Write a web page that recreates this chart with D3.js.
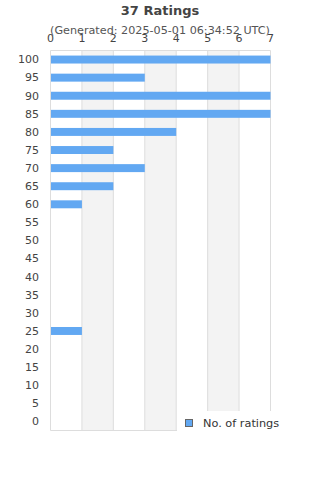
<!DOCTYPE html>
<html>
<head>
<meta charset="utf-8">
<script src="https://d3js.org/d3.v7.min.js"></script>
<style>
  body { margin: 0; background: #fff; }
  svg { font-family: "DejaVu Sans", sans-serif; }
</style>
</head>
<body>
<svg width="320" height="480"></svg>
<script>
// ratings (categories) from top to bottom and counts
var categories = ["100","95","90","85","80","75","70","65","60","55","50","45","40","35","30","25","20","15","10","5","0"];
var counts =     [7, 3, 7, 7, 4, 2, 3, 2, 1, 0, 0, 0, 0, 0, 0, 1, 0, 0, 0, 0, 0];
var xTicks = [0, 1, 2, 3, 4, 5, 6, 7];
var title = "37 Ratings";
var subtitle = "(Generated: 2025-05-01 06:34:52 UTC)";
var seriesName = "No. of ratings";

var svg = d3.select("svg");
var plotLeft = 50.5, plotRight = 270.5, plotTop = 50.5, plotBottom = 430.5;
var barColor = "#62a8f2";

var x = d3.scaleLinear().domain([0, 7]).range([plotLeft, plotRight]);
var y = d3.scaleBand().domain(categories).range([plotTop, plotBottom]).paddingInner(0.56).paddingOuter(0.28);

// alternate bands
svg.append("g").selectAll("rect")
  .data([1, 3, 5])
  .enter().append("rect")
  .attr("x", function(d) { return x(d); })
  .attr("y", plotTop)
  .attr("width", function(d) { return x(d + 1) - x(d); })
  .attr("height", plotBottom - plotTop)
  .attr("fill", "#f3f3f3");

// grid lines
svg.append("g").selectAll("line")
  .data(xTicks)
  .enter().append("line")
  .attr("x1", function(d) { return x(d); })
  .attr("x2", function(d) { return x(d); })
  .attr("y1", plotTop)
  .attr("y2", plotBottom)
  .attr("stroke", "#dddddd");

svg.append("line")
  .attr("x1", plotLeft).attr("x2", plotRight)
  .attr("y1", plotTop).attr("y2", plotTop)
  .attr("stroke", "#dddddd");
svg.append("line")
  .attr("x1", plotLeft).attr("x2", plotRight)
  .attr("y1", plotBottom).attr("y2", plotBottom)
  .attr("stroke", "#dddddd");

// bars
svg.append("g").selectAll("rect")
  .data(counts)
  .enter().append("rect")
  .attr("x", plotLeft + 0.5)
  .attr("y", function(d, i) { return y(categories[i]); })
  .attr("width", function(d) { return Math.max(0, x(d) - plotLeft - 0.5); })
  .attr("height", y.bandwidth())
  .attr("fill", barColor);

// x axis labels (top)
svg.append("g").selectAll("text")
  .data(xTicks)
  .enter().append("text")
  .attr("x", function(d) { return x(d); })
  .attr("y", 42)
  .attr("text-anchor", "middle")
  .attr("font-size", "11px")
  .attr("fill", "#444")
  .text(function(d) { return d; });

// y axis labels
svg.append("g").selectAll("text")
  .data(categories)
  .enter().append("text")
  .attr("x", 39)
  .attr("y", function(d) { return y(d) + y.bandwidth() / 2; })
  .attr("dy", "0.35em")
  .attr("text-anchor", "end")
  .attr("font-size", "11px")
  .attr("fill", "#444")
  .text(function(d) { return d; });

// title
svg.append("text")
  .attr("x", 160).attr("y", 15)
  .attr("text-anchor", "middle")
  .attr("font-size", "13px")
  .attr("font-weight", "bold")
  .attr("fill", "#444")
  .text(title);

svg.append("text")
  .attr("x", 160).attr("y", 34)
  .attr("text-anchor", "middle")
  .attr("font-size", "11.2px")
  .attr("fill", "#555")
  .text(subtitle);

// legend
var legend = svg.append("g");
legend.append("rect")
  .attr("x", 177).attr("y", 411)
  .attr("width", 143).attr("height", 30)
  .attr("fill", "#fff");
legend.append("rect")
  .attr("x", 185.5).attr("y", 419.5)
  .attr("width", 7).attr("height", 7)
  .attr("fill", barColor)
  .attr("stroke", "#666");
legend.append("text")
  .attr("x", 203).attr("y", 426.5)
  .attr("font-size", "11.3px")
  .attr("fill", "#333")
  .text(seriesName);
</script>
</body>
</html>
